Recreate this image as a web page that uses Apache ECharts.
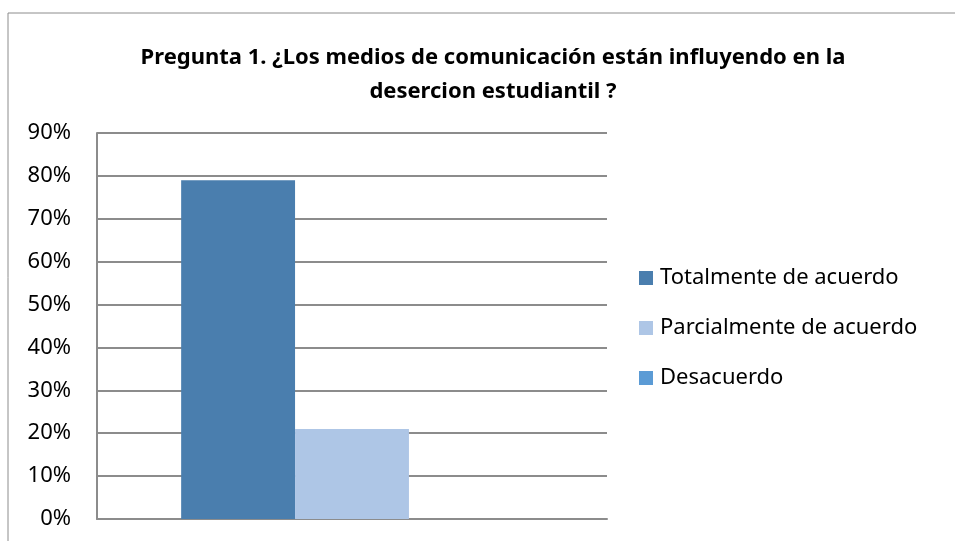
<!DOCTYPE html>
<html>
<head>
<meta charset="utf-8">
<script src="https://cdn.jsdelivr.net/npm/echarts@6/dist/echarts.min.js"></script>
<style>
html, body { margin: 0; padding: 0; background: #fff; }
#chart { width: 955px; height: 541px; }
</style>
</head>
<body>
<div id="chart"></div>
<script>
// datos de la pregunta 1
var categorias = ['Pregunta 1'];
var nombres = ['Totalmente de acuerdo', 'Parcialmente de acuerdo', 'Desacuerdo'];
var totalmente = [0.79];
var parcialmente = [0.21];
var desacuerdo = [0];
var colores = ['#4A7EAE', '#AEC6E6', '#5B9BD5'];

(function(){
	var myChart = echarts.init(document.getElementById('chart'));

	var fuente = '"Noto Sans", "Open Sans", sans-serif';

	var option = {
		animation: false,
		color: colores,
		title: {
			text: 'Pregunta 1. ¿Los medios de comunicación están influyendo en la\ndesercion estudiantil ?',
			left: 488,
			top: 36,
			textAlign: 'center',
			textStyle: {
				fontFamily: fuente,
				fontWeight: 'bold',
				fontSize: 22,
				lineHeight: 34,
				color: '#000'
			}
		},
		legend: {
			orient: 'vertical',
			left: 634,
			top: 262,
			itemWidth: 14,
			itemHeight: 14,
			itemGap: 28,
			icon: 'rect',
			data: nombres,
			textStyle: {
				fontFamily: fuente,
				fontSize: 22,
				color: '#000',
				padding: [0, 0, 0, 2]
			}
		},
		grid: {
			left: 97,
			right: 348,
			top: 133,
			bottom: 22
		},
		xAxis: {
			type: 'category',
			data: categorias,
			axisLine: { lineStyle: { color: '#8c8c8c', width: 2 } },
			axisTick: { show: false },
			axisLabel: { show: false }
		},
		yAxis: {
			type: 'value',
			min: 0,
			max: 0.9,
			interval: 0.1,
			axisLine: { show: true, lineStyle: { color: '#8c8c8c', width: 2 } },
			axisTick: { show: false },
			splitLine: { lineStyle: { color: '#8c8c8c', width: 2 } },
			axisLabel: {
				margin: 26,
				fontFamily: fuente,
				fontSize: 22,
				color: '#000',
				formatter: function (v) { return Math.round(v * 100) + '%'; }
			}
		},
		graphic: [{
			type: 'rect',
			shape: { x: 8, y: 13, width: 960, height: 560 },
			style: { fill: null, stroke: '#8c8c8c', lineWidth: 1 },
			silent: true
		}],
		series: [
			{ name: nombres[0], type: 'bar', data: totalmente, barGap: 0, barCategoryGap: '33%' },
			{ name: nombres[1], type: 'bar', data: parcialmente, barGap: 0, barCategoryGap: '33%' },
			{ name: nombres[2], type: 'bar', data: desacuerdo, barGap: 0, barCategoryGap: '33%' }
		]
	};

	myChart.setOption(option);
})();
</script>
</body>
</html>
